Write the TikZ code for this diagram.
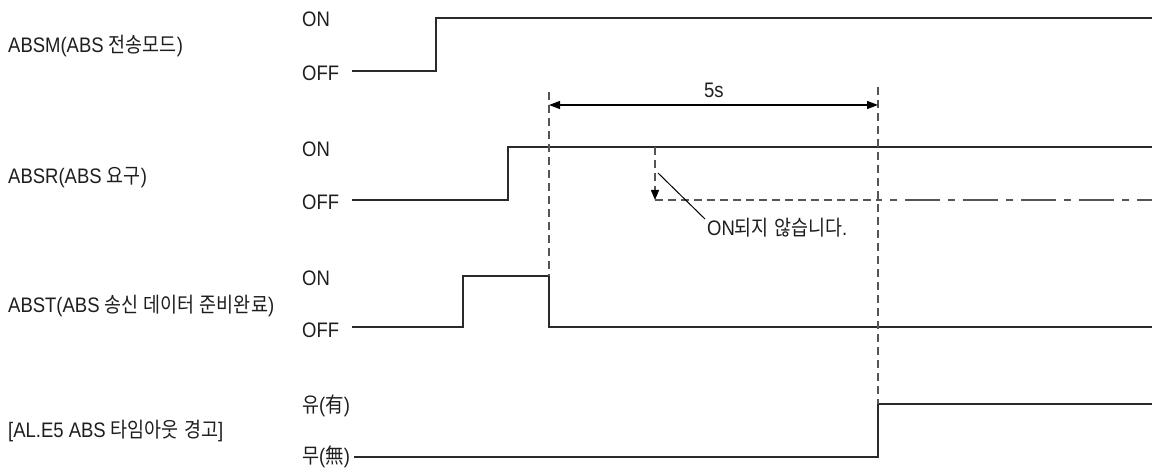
\documentclass[tikz,border=0pt]{standalone}
\usepackage{fontspec}
\setmainfont{Liberation Sans}[FakeStretch=0.88]
\newfontfamily\krfont{Noto Sans CJK KR}[FakeStretch=0.88]
\usetikzlibrary{arrows.meta}
\newcommand{\K}[1]{{\krfont #1}}
\definecolor{txt}{HTML}{1E1E1E}
\definecolor{sigc}{HTML}{2A2A2A}
\definecolor{gdc}{HTML}{555555}
\begin{document}
\begin{tikzpicture}[x=1pt,y=-1pt,
  lbl/.style={anchor=base west,inner sep=0pt,font=\fontsize{21}{24}\selectfont,text=txt},
  sig/.style={draw=sigc,line width=1.5pt,line join=miter},
  guide/.style={draw=gdc,line width=1.3pt,dash pattern=on 8pt off 5pt},
  altguide/.style={draw=gdc,line width=1.3pt,dash pattern=on 7pt off 8pt on 35pt off 8pt},
  tipb/.style={{Triangle[length=11pt,width=8pt]}-{Triangle[length=11pt,width=8pt]}},
  tipd/.style={-{Triangle[length=10pt,width=8pt,color=black]}}
]
\useasboundingbox (0,0) rectangle (1152,468);

% signal names
\node[lbl] (absm) at (8,53) {ABSM(ABS \K{전송모드})};
\node[lbl] (absr) at (8,183) {ABSR(ABS \K{요구})};
\node[lbl] (abst) at (8,312) {ABST(ABS \K{송신} \K{데이터} \K{준비완료})};
\node[lbl] (al) at (8,437) {[AL.E5 ABS \K{타임아웃} \K{경고}]};

% level labels
\node[lbl] (on1) at (302,27) {ON};
\node[lbl] (off1) at (302,81) {OFF};
\node[lbl] (on2) at (302,157) {ON};
\node[lbl] (off2) at (302,209) {OFF};
\node[lbl] (on3) at (302,285) {ON};
\node[lbl] (off3) at (302,337) {OFF};
\node[lbl] (on4) at (302,412) {\K{유}(\K{有})};
\node[lbl] (off4) at (302,463) {\K{무}(\K{無})};

% key coordinates
\coordinate (m0) at (352,71);
\coordinate (m1) at (436,71);
\coordinate (m2) at (436,18);
\coordinate (m3) at (1152,18);

\coordinate (r0) at (352,200);
\coordinate (r1) at (508,200);
\coordinate (r2) at (508,147);
\coordinate (r3) at (1152,147);

\coordinate (t0) at (352,327);
\coordinate (t1) at (463,327);
\coordinate (t2) at (463,276);
\coordinate (t3) at (549,276);
\coordinate (t4) at (549,327);
\coordinate (t5) at (1152,327);

\coordinate (a0) at (354,457);
\coordinate (a1) at (878,457);
\coordinate (a2) at (878,404);
\coordinate (a3) at (1152,404);

% waveforms
\draw[sig] (m0) -- (m1) -- (m2) -- (m3);
\draw[sig] (r0) -- (r1) -- (r2) -- (r3);
\draw[sig] (t0) -- (t1) -- (t2) -- (t3) -- (t4) -- (t5);
\draw[sig] (a0) -- (a1) -- (a2) -- (a3);

% guide lines
\coordinate (g1top) at (549,92);
\coordinate (g2top) at (878,87);
\draw[guide] (g1top) -- (t3);
\draw[guide] (g2top) -- (a2);

% 5s dimension
\coordinate (d1) at (549,105);
\coordinate (d2) at (878,105);
\draw[tipb,draw=black,line width=1.2pt] (d1) -- (d2);
\node[lbl] (five) at (704,98) {5s};

% ABSR expected fall (not happening)
\coordinate (e0) at (655,147);
\coordinate (e1) at (655,200);
\coordinate (e2) at (878,200);
\coordinate (e3) at (1152,200);
\draw[guide,tipd] (e0) -- (e1);
\draw[guide] (e1) -- (e2);
\draw[altguide,dash phase=-12pt] (e2) -- (e3);

% annotation
\node[lbl] (note) at (707,235) {ON\K{되지} \K{않습니다}.};
\coordinate (n0) at (658,173);
\coordinate (n1) at (705,219);
\draw[draw=black,line width=1pt] (n0) -- (n1);
\end{tikzpicture}
\end{document}
